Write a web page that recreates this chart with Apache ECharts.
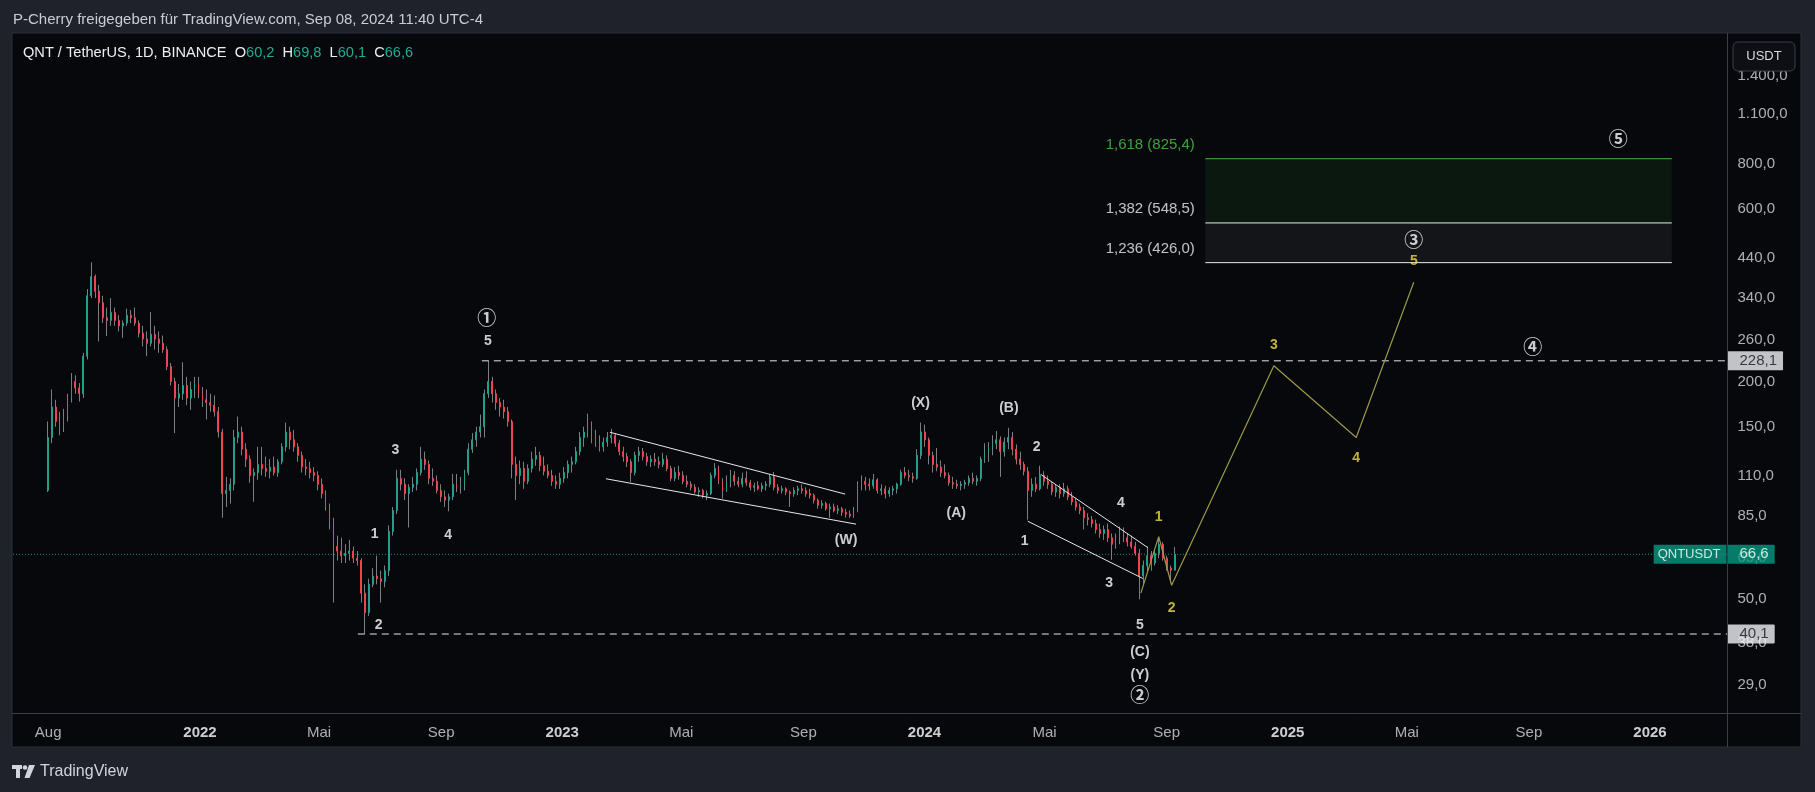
<!DOCTYPE html>
<html><head><meta charset="utf-8">
<script src="https://cdn.jsdelivr.net/npm/echarts@6/dist/echarts.min.js"></script>
<style>html,body{margin:0;padding:0;background:#1f222a;overflow:hidden}#c{width:1815px;height:792px}</style>
</head><body><div id="c"></div>
<script>
// ---------- data ----------
const candleStart = '2021-07-30';
const candleStepDays = 4;
// [open, high, low, close] per 4-day candle
const ohlc = [
[100,155,99,140],[140,190,135,170],[170,178,150,155],[155,165,142,150],[150,168,145,160],[160,185,155,180],[180,211,175,200],[200,208,185,192],[192,198,176,185],[185,240,180,235],
[235,360,230,345],[345,427,340,390],[390,395,340,355],[355,370,258,330],[330,345,290,300],[300,320,267,295],[295,340,285,310],[310,320,285,295],[295,305,275,285],[285,295,264,290],
[290,318,285,305],[305,315,290,300],[300,320,285,290],[290,295,265,272],[272,285,250,262],[262,275,235,255],[255,311,250,270],[270,285,245,262],[262,275,240,255],[255,268,240,245],
[245,250,215,220],[220,225,195,200],[200,205,144,180],[180,197,170,185],[185,226,178,195],[195,206,172,180],[180,200,167,190],[190,206,180,198],[198,206,180,185],[185,193,170,178],
[178,190,157,175],[175,185,165,172],[172,183,160,165],[165,170,140,145],[145,148,84,98],[98,109,90,100],[100,108,92,104],[104,147,100,140],[140,160,135,145],[145,150,125,130],
[130,135,116,122],[122,125,105,110],[110,115,93,112],[112,132,107,118],[118,132,110,115],[115,124,109,113],[113,122,108,116],[116,124,110,112],[112,122,109,120],[120,135,118,132],
[132,154,128,145],[145,150,130,138],[138,147,128,132],[132,135,120,125],[125,128,112,116],[116,122,110,115],[115,120,108,112],[112,116,106,110],[110,113,100,104],[104,108,95,98],
[98,100,88,90],[90,92,78,82],[82,84,49,70],[70,75,64,68],[68,74,63,66],[66,71,63,67],[67,73,64,68],[68,70,63,65],[65,68,62,64],[64,65,49,52],
[52,55,40.1,46],[46,57,45,55],[55,61,54,58],[58,66,55,57],[57,60,49,56],[56,62,54,60],[60,80,58,77],[77,90,75,88],[88,114,86,108],[108,114,100,104],
[104,108,94,98],[98,104,79,102],[102,109,99,104],[104,115,100,112],[112,132,110,122],[122,128,114,118],[118,121,104,108],[108,115,103,106],[106,110,98,100],[100,104,93,96],
[96,100,90,94],[94,98,87.6,96],[96,111,94,104],[104,111,99,102],[102,109,98,103],[103,114,100,112],[112,135,110,130],[130,144,127,138],[138,150,132,145],[145,162,140,150],
[150,190,140,185],[185,228.1,180,200],[200,206,175,185],[185,190,167,175],[175,180,160,170],[170,178,158,165],[165,170,150,155],[155,157,108,118],[118,124,94,110],[110,121,104,115],
[115,120,101,106],[106,118,104,115],[115,128,112,122],[122,132,117,125],[125,128,113,117],[117,124,110,113],[113,118,108,110],[110,114,103,106],[106,110,101,104],[104,112,101,108],
[108,116,105,112],[112,121,108,118],[118,124,112,120],[120,132,118,128],[128,145,125,140],[140,150,132,145],[145,163,140,150],[150,155,135,140],[140,147,132,136],[136,142,128,132],
[132,140,128,136],[136,145,132,140],[140,148,135,142],[142,144,132,135],[135,138,125,128],[128,132,120,124],[124,127,116,120],[120,122,105.5,112],[112,128,110,125],[125,132,120,128],
[128,131,121,124],[124,127,117,120],[120,125,116,122],[122,127,117,120],[120,124,115,118],[118,127,116,122],[122,125,113,115],[115,117,106,108],[108,116,106,112],[112,117,107,110],
[110,113,104,106],[106,110,102,104],[104,106,100,102],[102,104,98,99],[99,102,96,100],[100,101,95,97],[97,100,94,98],[98,112,97,110],[110,119,108,115],[115,117,104,106],
[106,108,95,100],[100,110,99,106],[106,114,102,110],[110,113,103,106],[106,109,102,104],[104,112,102,108],[108,113,103,105],[105,107,100,102],[102,105,99,103],[103,106,100,101],
[101,105,99,103],[103,106,100,104],[104,111,102,109],[109,112.5,100,102],[102,104,98,100],[100,103,98,101],[101,102,97,99],[99,100,90,98],[98,102,96,100],[100,103,97,101],
[101,104,98,100],[100,102,96,98],[98,101,95,97],[97,98,92,94],[94,95,89,91],[91,94,89,92],[92,93,88,89],[89,92,84,90],[90,92,87,88],[88,91,86,89],
[89,90,85,87],[87,89,84,86],[86,88,84,85],[85,90,84,88],[88,106,87,104],[104,110,100,106],[106,109,100,104],[104,108,100,103],[103,111,101,107],[107,108,98,100],
[100,104,97,101],[101,103,95,98],[98,102,96,100],[100,103,97,101],[101,105,98,104],[104,114,103,112],[112,116,108,110],[110,114,106,109],[109,112,105,108],[108,130,107,125],
[125,154,122,145],[145,152,132,138],[138,140,118,125],[125,128,112,118],[118,131,113,116],[116,121,109,112],[112,118,108,110],[110,112,103,105],[105,109,101,104],[104,107,101,103],
[103,106,100,104],[104,107,101,105],[105,110,103,108],[108,112,104,106],[106,110,103,108],[108,124,106,122],[122,135,119,128],[128,136,120,132],[132,142,125,135],[135,146,130,138],
[138,141,109,128],[128,140,124,136],[136,149,130,140],[140,145,125,130],[130,134,118,122],[122,128,114,118],[118,120,110,113],[113,116,83,100],[100,108,96,104],[104,109,99,101],
[101,117,100,110],[110,113,103,106],[106,110,101,104],[104,106,97,99],[99,104,96,102],[102,104,95,98],[98,105,96,101],[101,103,94,96],[96,99,91,93],[93,95,88,90],
[90,92,86,88],[88,90,78,84],[84,86.5,80,83],[83,85,79,81],[81,83,76,78],[78,81,74,76],[76,80,73,78],[78,81,72,74],[74,76,64.3,71],[71,76,69,74],
[74,79.5,71,77],[77,79,72,74],[74,76,70,72],[72,75,69,70],[70,72,66,67],[67,69,50,58],[58,64,55,62],[62,70,60,66],[66,68,60,63],[63,69,62,67],
[67,74,65,71],[71,72,64,65],[65,66,60,61],[61,62,55.5,60.2],[60.2,69.8,60.1,66.6]
];
const yTicks = [29, 38, 50, 65, 85, 110, 150, 200, 260, 340, 440, 600, 800, 1100, 1400];
const xTickDates = ['2021-08-01','2022-01-01','2022-05-01','2022-09-01','2023-01-01','2023-05-01','2023-09-01','2024-01-01','2024-05-01','2024-09-01','2025-01-01','2025-05-01','2025-09-01','2026-01-01'];
const xTickLabels = ['Aug','2022','Mai','Sep','2023','Mai','Sep','2024','Mai','Sep','2025','Mai','Sep','2026'];
const lastPrice = 66.6;
const levelLines = [{price: 228.1, from: '2022-10-12'}, {price: 40.1, from: '2022-06-09'}];
const fibLevels = [{ratio: 1.618, price: 825.4}, {ratio: 1.382, price: 548.5}, {ratio: 1.236, price: 426.0}];
const fibRange = ['2024-10-10', '2026-01-23'];
const wedge2023 = [[['2023-02-18',144.8],['2023-10-13',97.7]], [['2023-02-14',107.7],['2023-10-24',80.7]]];
const wedge2024 = [[['2024-04-27',110.8],['2024-08-13',69.5]], [['2024-04-14',82.2],['2024-08-08',57.1]]];
const projection = [['2024-08-06',52],['2024-08-24',74.5],['2024-09-06',54.7],['2024-12-18',221],['2025-03-11',140],['2025-05-08',376]];
// [date, price, text, colour key]
const waveLabels = [
 ['2022-10-17',300,'①','c'],['2022-10-18',258.8,'5','w'],['2022-07-17',129.3,'3','w'],['2022-06-26',75.8,'1','w'],
 ['2022-09-08',75.3,'4','w'],['2022-06-30',42.5,'2','w'],['2023-10-14',72.9,'(W)','w'],['2023-12-28',174,'(X)','w'],
 ['2024-02-02',86.3,'(A)','w'],['2024-03-26',168.6,'(B)','w'],['2024-04-23',132,'2','w'],['2024-04-11',72.2,'1','w'],
 ['2024-07-17',92.5,'4','w'],['2024-07-05',55.4,'3','w'],['2024-08-05',42.5,'5','w'],['2024-08-05',35.8,'(C)','w'],
 ['2024-08-05',30.9,'(Y)','w'],['2024-08-05',27.2,'②','c'],
 ['2024-08-24',84.6,'1','y'],['2024-09-06',47.4,'2','y'],['2024-12-18',252,'3','y'],['2025-03-11',122.9,'4','y'],['2025-05-08',431,'5','y'],
 ['2025-05-08',492,'③','c'],['2025-09-05',250,'④','c'],['2025-11-30',936,'⑤','c']
];

// ---------- helpers ----------
const DAY = 86400000;
const T = s => Date.parse(s + 'T00:00:00Z');
const xMin = Date.UTC(2021, 5, 26, 14, 24), xMax = Date.UTC(2026, 2, 19, 14, 24);
const yMin = 24.26, yMax = 1802;
function de(v) { const s = v.toFixed(1).split('.'); return s[0].replace(/\B(?=(\d{3})+(?!\d))/g, '.') + ',' + s[1]; }
const FONT = 'Liberation Sans';
const t0 = T(candleStart);
const candles = ohlc.map((d, i) => [t0 + (i * candleStepDays + 1.5) * DAY, d[0], d[3], d[2], d[1]]);
const bodies = ohlc.map((d, i) => [t0 + (i * candleStepDays + 1.5) * DAY, d[0], d[3], Math.min(d[0], d[3]), Math.max(d[0], d[3])]);
const last = ohlc[ohlc.length - 1];

const UP = '#20a08b', DOWN = '#ee4351', WICK = '#7c7e85';
const lineSeries = (pts, color, extra) => Object.assign({
  type: 'line', data: pts.map(p => [typeof p[0] === 'string' ? T(p[0]) : p[0], p[1]]), symbol: 'none',
  lineStyle: {color, width: 1}, silent: true, z: 5, animation: false
}, extra || {});

const series = [];
// fib zone
const fx0 = T(fibRange[0]), fx1 = T(fibRange[1]);
series.push(lineSeries([[fx0, fibLevels[0].price], [fx1, fibLevels[0].price]], '#4caf50', {
  markArea: {silent: true, data: [
    [{coord: [fx0, fibLevels[0].price], itemStyle: {color: 'rgba(40,140,50,0.13)'}}, {coord: [fx1, fibLevels[1].price]}],
    [{coord: [fx0, fibLevels[1].price], itemStyle: {color: 'rgba(150,155,170,0.09)'}}, {coord: [fx1, fibLevels[2].price]}]
  ]}
}));
series.push(lineSeries([[fx0, fibLevels[1].price], [fx1, fibLevels[1].price]], '#e8eaef'));
series.push(lineSeries([[fx0, fibLevels[2].price], [fx1, fibLevels[2].price]], '#e8eaef'));
// current price dotted line
series.push(lineSeries([[xMin, lastPrice], [xMax, lastPrice]], '#1d8c7a', {lineStyle: {color: '#1d8c7a', width: 1, type: [1, 2]}, z: 1}));
// dashed levels
levelLines.forEach(l => series.push(lineSeries([[T(l.from), l.price], [xMax, l.price]], '#e3e5ea', {lineStyle: {color: '#e3e5ea', width: 1, type: [7, 5]}})));
// candles: wick layer + body layer
series.push({type: 'candlestick', data: candles, barWidth: 1, silent: true, z: 3, animation: false,
  itemStyle: {color: WICK, color0: WICK, borderColor: WICK, borderColor0: WICK, borderColorDoji: WICK, borderWidth: 1}});
series.push({type: 'candlestick', data: bodies, barWidth: 1.4, silent: true, z: 4, animation: false,
  itemStyle: {color: UP, color0: DOWN, borderColor: UP, borderColor0: DOWN, borderColorDoji: WICK, borderWidth: 1}});
// wedges
wedge2023.concat(wedge2024).forEach(seg => series.push(lineSeries(seg, '#e6e8ed', {z: 6})));
// projection
series.push(lineSeries(projection, '#9c9a48', {lineStyle: {color: '#9c9a48', width: 1.2}, z: 6}));

const hidden = {type: 'scatter', symbolSize: 1, itemStyle: {color: 'rgba(0,0,0,0)'}, silent: true, clip: false, animation: false};
// wave labels
series.push(Object.assign({}, hidden, {z: 10, data: waveLabels.map(w => ({
  value: [T(w[0]), w[1]],
  label: w[3] === 'c'
    ? {show: true, position: 'inside', formatter: w[2], color: '#ffffff', fontSize: 19, fontFamily: 'Noto Sans CJK JP', fontWeight: 'bold'}
    : {show: true, position: 'inside', formatter: w[2], color: w[3] === 'y' ? '#f3dd45' : '#ffffff', fontSize: 14, fontFamily: FONT, fontWeight: 'bold'}
}))}));
// fib labels
series.push(Object.assign({}, hidden, {z: 10, data: fibLevels.map((f, i) => ({
  value: [fx0, f.price],
  label: {show: true, position: 'left', distance: 10, offset: [0, -14], formatter: f.ratio.toFixed(3).replace('.', ',') + ' (' + de(f.price) + ')',
    color: i === 0 ? '#4cc74c' : '#eef0f4', fontSize: 15, fontFamily: FONT}
}))}));
// y tick labels
series.push(Object.assign({}, hidden, {z: 6, data: yTicks.map(v => [xMax, v]),
  label: {show: true, position: 'right', distance: 10, formatter: p => de(p.value[1]), color: '#d7d9df', fontSize: 15, fontFamily: FONT}}));
// x tick labels
series.push(Object.assign({}, hidden, {z: 6, data: xTickDates.map((d, i) => ({
  value: [T(d), yMin],
  label: {show: true, position: 'bottom', distance: 12, formatter: xTickLabels[i], fontSize: 15, fontFamily: FONT,
    fontWeight: /^\d{4}$/.test(xTickLabels[i]) ? 'bold' : 'normal', color: /^\d{4}$/.test(xTickLabels[i]) ? '#ffffff' : '#d7d9df'}
}))}));
// price-axis boxes
const boxLabel = (bg, fg) => ({show: true, position: 'right', distance: 0, backgroundColor: bg, color: fg, fontSize: 15, fontFamily: FONT,
  lineHeight: 15, padding: [2, 6, 2, 12], borderRadius: 1});
series.push(Object.assign({}, hidden, {z: 20, data: [
  {value: [xMax, levelLines[0].price], label: Object.assign(boxLabel('#f0f2f6', '#131722'), {formatter: de(levelLines[0].price)})},
  {value: [xMax, levelLines[1].price], label: Object.assign(boxLabel('#f0f2f6', '#131722'), {formatter: de(levelLines[1].price)})},
  {value: [xMax, lastPrice], label: Object.assign(boxLabel('#089981', '#ffffff'), {formatter: de(lastPrice)})},
  {value: [xMax, lastPrice], label: {show: true, position: 'left', distance: 0, backgroundColor: '#089981', color: '#ffffff', fontSize: 13,
    fontFamily: FONT, lineHeight: 15, padding: [2, 6, 2, 4], formatter: 'QNTUSDT'}}
]}));

const chart = echarts.init(document.getElementById('c'), null, {renderer: 'canvas', width: 1815, height: 792});
chart.setOption({
  animation: false,
  backgroundColor: '#1f222a',
  grid: {left: 13, right: 88, top: 36, bottom: 79, containLabel: false},
  xAxis: {type: 'value', min: xMin, max: xMax, axisLine: {show: false}, axisTick: {show: false}, axisLabel: {show: false}, splitLine: {show: false}},
  yAxis: {type: 'log', position: 'right', min: yMin, max: yMax, axisLine: {show: false}, axisTick: {show: false}, axisLabel: {show: false}, splitLine: {show: false}},
  graphic: [
    {type: 'rect', z: 0, silent: true, shape: {x: 12, y: 33, width: 1789, height: 714}, style: {fill: '#07080b', stroke: '#2b2e37', lineWidth: 1}},
    {type: 'line', z: 50, silent: true, shape: {x1: 12, y1: 713.5, x2: 1801, y2: 713.5}, style: {stroke: '#3b3f49', lineWidth: 1}},
    {type: 'line', z: 50, silent: true, shape: {x1: 1727.5, y1: 33, x2: 1727.5, y2: 747}, style: {stroke: '#3b3f49', lineWidth: 1}},
    {type: 'rect', z: 100, silent: true, shape: {x: 1733, y: 42, width: 62, height: 29, r: 5}, style: {fill: '#0d0f14', stroke: '#3b3f49', lineWidth: 1}},
    {type: 'text', z: 101, silent: true, x: 1764, y: 56.5, style: {text: 'USDT', fill: '#d7d9df', fontSize: 13, fontFamily: FONT, align: 'center', verticalAlign: 'middle'}},
    {type: 'text', z: 101, silent: true, x: 13, y: 20, style: {text: 'P-Cherry freigegeben für TradingView.com, Sep 08, 2024 11:40 UTC-4', fill: '#c9ccd4', fontSize: 15, fontFamily: FONT, verticalAlign: 'middle'}},
    {type: 'text', z: 101, silent: true, x: 23, y: 53, style: {
      text: '{w|QNT / TetherUS, 1D, BINANCE}  {w|O}{g|' + de(last[0]) + '}  {w|H}{g|' + de(last[1]) + '}  {w|L}{g|' + de(last[2]) + '}  {w|C}{g|' + de(last[3]) + '}',
      fontSize: 14.6, fontFamily: FONT, verticalAlign: 'middle', fill: '#eceef2',
      rich: {w: {fill: '#eceef2', fontSize: 14.6, fontFamily: FONT}, g: {fill: '#22ab94', fontSize: 14.6, fontFamily: FONT}}}},
    {type: 'rect', z: 101, silent: true, shape: {x: 12, y: 765, width: 10, height: 4}, style: {fill: '#d1d4dc'}},
    {type: 'rect', z: 101, silent: true, shape: {x: 16, y: 765, width: 4, height: 13}, style: {fill: '#d1d4dc'}},
    {type: 'circle', z: 101, silent: true, shape: {cx: 25, cy: 767.5, r: 2.3}, style: {fill: '#d1d4dc'}},
    {type: 'polygon', z: 101, silent: true, shape: {points: [[29, 765], [35, 765], [29.5, 778], [24.5, 778]]}, style: {fill: '#d1d4dc'}},
    {type: 'text', z: 101, silent: true, x: 40, y: 772, style: {text: 'TradingView', fill: '#d1d4dc', fontSize: 16, fontFamily: FONT, verticalAlign: 'middle'}}
  ],
  series
});
</script>
</body></html>
